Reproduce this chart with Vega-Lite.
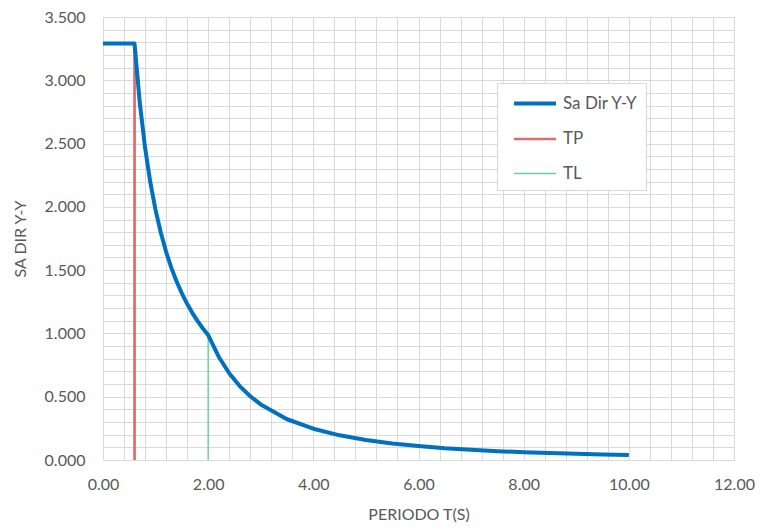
{
  "$schema": "https://vega.github.io/schema/vega-lite/v6.json",
  "width": 631,
  "height": 443,
  "autosize": {"type": "none"},
  "padding": {"left": 103, "top": 17, "right": 26, "bottom": 71},
  "background": "white",
  "config": {
    "font": "Lato",
    "view": {"stroke": null},
    "axis": {
      "labelFont": "Lato",
      "titleFont": "Lato",
      "labelColor": "#595959",
      "titleColor": "#595959",
      "labelFontSize": 16,
      "titleFontSize": 16,
      "titleFontWeight": "normal",
      "gridColor": "#D9D9D9",
      "gridWidth": 1,
      "ticks": false,
      "domain": false
    }
  },
  "data": {
    "values": [
      {"series": "TP", "t": 0.6, "sa": 0},
      {"series": "TP", "t": 0.6, "sa": 3.29},
      {"series": "TL", "t": 2.0, "sa": 0},
      {"series": "TL", "t": 2.0, "sa": 0.987},
      {"series": "Sa Dir Y-Y", "t": 0.0, "sa": 3.29},
      {"series": "Sa Dir Y-Y", "t": 0.1, "sa": 3.29},
      {"series": "Sa Dir Y-Y", "t": 0.2, "sa": 3.29},
      {"series": "Sa Dir Y-Y", "t": 0.3, "sa": 3.29},
      {"series": "Sa Dir Y-Y", "t": 0.4, "sa": 3.29},
      {"series": "Sa Dir Y-Y", "t": 0.5, "sa": 3.29},
      {"series": "Sa Dir Y-Y", "t": 0.6, "sa": 3.29},
      {"series": "Sa Dir Y-Y", "t": 0.7, "sa": 2.82},
      {"series": "Sa Dir Y-Y", "t": 0.8, "sa": 2.468},
      {"series": "Sa Dir Y-Y", "t": 0.9, "sa": 2.193},
      {"series": "Sa Dir Y-Y", "t": 1.0, "sa": 1.974},
      {"series": "Sa Dir Y-Y", "t": 1.1, "sa": 1.795},
      {"series": "Sa Dir Y-Y", "t": 1.2, "sa": 1.645},
      {"series": "Sa Dir Y-Y", "t": 1.3, "sa": 1.518},
      {"series": "Sa Dir Y-Y", "t": 1.4, "sa": 1.41},
      {"series": "Sa Dir Y-Y", "t": 1.5, "sa": 1.316},
      {"series": "Sa Dir Y-Y", "t": 1.6, "sa": 1.234},
      {"series": "Sa Dir Y-Y", "t": 1.7, "sa": 1.161},
      {"series": "Sa Dir Y-Y", "t": 1.8, "sa": 1.097},
      {"series": "Sa Dir Y-Y", "t": 1.9, "sa": 1.039},
      {"series": "Sa Dir Y-Y", "t": 2.0, "sa": 0.987},
      {"series": "Sa Dir Y-Y", "t": 2.2, "sa": 0.816},
      {"series": "Sa Dir Y-Y", "t": 2.4, "sa": 0.685},
      {"series": "Sa Dir Y-Y", "t": 2.6, "sa": 0.584},
      {"series": "Sa Dir Y-Y", "t": 2.8, "sa": 0.504},
      {"series": "Sa Dir Y-Y", "t": 3.0, "sa": 0.439},
      {"series": "Sa Dir Y-Y", "t": 3.5, "sa": 0.322},
      {"series": "Sa Dir Y-Y", "t": 4.0, "sa": 0.247},
      {"series": "Sa Dir Y-Y", "t": 4.5, "sa": 0.195},
      {"series": "Sa Dir Y-Y", "t": 5.0, "sa": 0.158},
      {"series": "Sa Dir Y-Y", "t": 5.5, "sa": 0.131},
      {"series": "Sa Dir Y-Y", "t": 6.0, "sa": 0.11},
      {"series": "Sa Dir Y-Y", "t": 6.5, "sa": 0.093},
      {"series": "Sa Dir Y-Y", "t": 7.0, "sa": 0.081},
      {"series": "Sa Dir Y-Y", "t": 7.5, "sa": 0.07},
      {"series": "Sa Dir Y-Y", "t": 8.0, "sa": 0.062},
      {"series": "Sa Dir Y-Y", "t": 8.5, "sa": 0.055},
      {"series": "Sa Dir Y-Y", "t": 9.0, "sa": 0.049},
      {"series": "Sa Dir Y-Y", "t": 9.5, "sa": 0.044},
      {"series": "Sa Dir Y-Y", "t": 10.0, "sa": 0.039}
    ]
  },
  "mark": {"type": "line", "strokeCap": "butt", "strokeJoin": "round"},
  "encoding": {
    "x": {
      "field": "t",
      "type": "quantitative",
      "scale": {"domain": [0, 12], "nice": false, "zero": false},
      "axis": {
        "title": "PERIODO T(S)",
        "values": [0, 0.4, 0.8, 1.2, 1.6, 2, 2.4, 2.8, 3.2, 3.6, 4, 4.4, 4.8, 5.2, 5.6, 6, 6.4, 6.8, 7.2, 7.6, 8, 8.4, 8.8, 9.2, 9.6, 10, 10.4, 10.8, 11.2, 11.6, 12],
        "labelExpr": "abs(datum.value/2 - round(datum.value/2)) < 0.001 ? format(datum.value, '.2f') : ''",
        "labelPadding": 16,
        "titlePadding": 14,
        "labelFlush": false
      }
    },
    "y": {
      "field": "sa",
      "type": "quantitative",
      "scale": {"domain": [0, 3.5], "nice": false},
      "axis": {
        "title": "SA DIR Y-Y",
        "values": [0, 0.1, 0.2, 0.3, 0.4, 0.5, 0.6, 0.7, 0.8, 0.9, 1, 1.1, 1.2, 1.3, 1.4, 1.5, 1.6, 1.7, 1.8, 1.9, 2, 2.1, 2.2, 2.3, 2.4, 2.5, 2.6, 2.7, 2.8, 2.9, 3, 3.1, 3.2, 3.3, 3.4, 3.5],
        "labelExpr": "abs(datum.value*2 - round(datum.value*2)) < 0.001 ? format(datum.value, '.3f') : ''",
        "labelPadding": 18,
        "titlePadding": 16,
        "labelFlush": false
      }
    },
    "color": {
      "field": "series",
      "type": "nominal",
      "scale": {"domain": ["Sa Dir Y-Y", "TP", "TL"], "range": ["#0070C0", "#E06B6B", "#6DCF97"]},
      "legend": {
        "title": null,
        "orient": "none",
        "legendX": 394,
        "legendY": 66,
        "direction": "vertical",
        "symbolType": "M-0.333,0H3.667",
        "symbolSize": 441,
        "labelFont": "Lato",
        "labelFontSize": 17,
        "labelColor": "#595959",
        "labelOffset": 33,
        "rowPadding": 15,
        "padding": 8,
        "strokeColor": "#D9D9D9",
        "fillColor": "white",
        "labelLimit": 200
      }
    },
    "strokeWidth": {
      "field": "series",
      "type": "nominal",
      "scale": {"domain": ["Sa Dir Y-Y", "TP", "TL"], "range": [4, 1.4, 1.4]},
      "legend": null
    }
  }
}
